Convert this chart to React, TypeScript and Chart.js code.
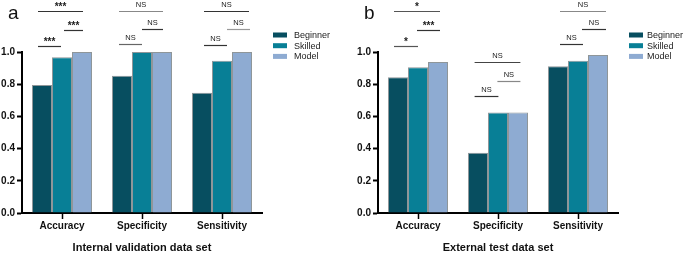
import React, { useEffect, useRef } from "react";
import { Chart, registerables } from "chart.js";

Chart.register(...registerables);

const categories = ["Accuracy", "Specificity", "Sensitivity"];
const seriesNames = ["Beginner", "Skilled", "Model"];
const seriesColors = ["#074e60", "#087f96", "#8eabd2"];

const internalBeginner = [0.795, 0.853, 0.747];
const internalSkilled = [0.967, 1.0, 0.946];
const internalModel = [1.0, 1.0, 1.0];

const externalBeginner = [0.843, 0.375, 0.911];
const externalSkilled = [0.905, 0.625, 0.946];
const externalModel = [0.938, 0.625, 0.981];

const yTickValues = [0, 0.2, 0.4, 0.6, 0.8, 1.0];

// significance annotations: category index, span in bar-slot units (0 = Beginner, 2 = Model), level in y units
const internalBrackets = [
  { cat: 0, from: -0.2, to: 2.05, level: 1.255, label: "***", color: "#333" },
  { cat: 0, from: 1.1, to: 2.05, level: 1.137, label: "***", color: "#333" },
  { cat: 0, from: -0.2, to: 0.95, level: 1.037, label: "***", color: "#333" },
  { cat: 1, from: -0.15, to: 2.05, level: 1.255, label: "NS", color: "#888" },
  { cat: 1, from: 1.0, to: 2.05, level: 1.143, label: "NS", color: "#333" },
  { cat: 1, from: -0.15, to: 1.0, level: 1.05, label: "NS", color: "#666" },
  { cat: 2, from: 0.1, to: 2.35, level: 1.255, label: "NS", color: "#333" },
  { cat: 2, from: 1.25, to: 2.4, level: 1.143, label: "NS", color: "#999" },
  { cat: 2, from: 0.1, to: 1.25, level: 1.043, label: "NS", color: "#333" },
];

const externalBrackets = [
  { cat: 0, from: -0.2, to: 2.1, level: 1.255, label: "*", color: "#555" },
  { cat: 0, from: 0.95, to: 2.1, level: 1.137, label: "***", color: "#333" },
  { cat: 0, from: -0.2, to: 1.0, level: 1.037, label: "*", color: "#555" },
  { cat: 1, from: -0.17, to: 2.12, level: 0.938, label: "NS", color: "#444" },
  { cat: 1, from: 0.97, to: 2.12, level: 0.822, label: "NS", color: "#888" },
  { cat: 1, from: -0.17, to: 1.02, level: 0.725, label: "NS", color: "#333" },
  { cat: 2, from: 0.1, to: 2.4, level: 1.255, label: "NS", color: "#888" },
  { cat: 2, from: 1.2, to: 2.4, level: 1.143, label: "NS", color: "#333" },
  { cat: 2, from: 0.1, to: 1.25, level: 1.05, label: "NS", color: "#333" },
];

const FONT = "'Liberation Sans', Arial, Helvetica, sans-serif";

type Bracket = { cat: number; from: number; to: number; level: number; label: string; color: string };

function makeOverlay(panelLabel: string, brackets: Bracket[], legendTextGap: number) {
  return {
    id: "overlay" + panelLabel,
    afterDraw(chart: any) {
      const ctx = chart.ctx as CanvasRenderingContext2D;
      const ys = chart.scales.y;
      const m0 = chart.getDatasetMeta(0);
      const m1 = chart.getDatasetMeta(1);
      ctx.save();
      // brackets
      brackets.forEach((b) => {
        const x0 = m0.data[b.cat].x;
        const step = m1.data[b.cat].x - x0;
        const xl = x0 + b.from * step;
        const xr = x0 + b.to * step;
        const y = Math.round(ys.getPixelForValue(b.level)) + 0.5;
        ctx.strokeStyle = b.color;
        ctx.lineWidth = 1.2;
        ctx.beginPath();
        ctx.moveTo(xl, y);
        ctx.lineTo(xr, y);
        ctx.stroke();
        ctx.fillStyle = "#222";
        ctx.textAlign = "center";
        ctx.textBaseline = "alphabetic";
        const xm = (xl + xr) / 2;
        if (b.label.startsWith("*")) {
          ctx.font = `bold 10px ${FONT}`;
          ctx.fillText(b.label, xm, y - 1.5);
        } else {
          ctx.font = `7.5px ${FONT}`;
          ctx.fillText(b.label, xm, y - 4.5);
        }
      });
      // legend
      const area = chart.chartArea;
      const lx = area.right + 11;
      chart.data.datasets.forEach((ds: any, i: number) => {
        const cy = 35 + i * 10.7;
        ctx.fillStyle = ds.backgroundColor;
        ctx.fillRect(lx, cy - 2.5, 14, 5);
        ctx.fillStyle = "#222";
        ctx.font = `9px ${FONT}`;
        ctx.textAlign = "left";
        ctx.textBaseline = "middle";
        ctx.fillText(ds.label, lx + legendTextGap, cy + 0.5);
      });
      // panel label
      ctx.fillStyle = "#111";
      ctx.font = `19px ${FONT}`;
      ctx.textAlign = "left";
      ctx.textBaseline = "alphabetic";
      ctx.fillText(panelLabel, area.left - 14, 18.5);
      ctx.restore();
    },
  };
}

function Panel(props: {
  left: number;
  width: number;
  yAxisWidth: number;
  values: number[][];
  title: string;
  panelLabel: string;
  brackets: Bracket[];
  legendTextGap: number;
}) {
  const ref = useRef<HTMLCanvasElement>(null);
  useEffect(() => {
    const canvas = ref.current!;
    const rightPad = props.width - props.yAxisWidth - 240;
    const chart = new Chart(canvas, {
      type: "bar",
      data: {
        labels: categories,
        datasets: seriesNames.map((name, i) => ({
          label: name,
          data: props.values[i],
          backgroundColor: seriesColors[i],
          borderColor: "rgba(95,105,110,0.7)",
          borderWidth: 1,
          barPercentage: 1,
          categoryPercentage: 0.75,
        })),
      },
      options: {
        responsive: false,
        animation: false,
        devicePixelRatio: 1,
        layout: { padding: { top: 52, right: rightPad, left: 0, bottom: 0 } },
        plugins: { legend: { display: false }, tooltip: { enabled: false }, title: { display: false } },
        scales: {
          x: {
            type: "category",
            offset: true,
            grid: {
              offset: false,
              drawOnChartArea: false,
              drawTicks: true,
              tickLength: 6,
              tickColor: "#000",
              tickWidth: 1.5,
            },
            border: { display: true, color: "#000", width: 2 },
            ticks: {
              color: "#111",
              padding: 1,
              font: { family: FONT, size: 10, weight: "bold" },
              maxRotation: 0,
            },
            title: {
              display: true,
              text: props.title,
              color: "#111",
              padding: 0,
              font: { family: FONT, size: 11, weight: "bold" },
            },
            afterFit: (s: any) => {
              s.height = 42;
            },
          },
          y: {
            min: 0,
            max: 1.0,
            afterBuildTicks: (s: any) => {
              s.ticks = yTickValues.map((v) => ({ value: v }));
            },
            grid: {
              drawOnChartArea: false,
              drawTicks: true,
              tickLength: 5,
              tickColor: "#000",
              tickWidth: 2,
            },
            border: { display: true, color: "#000", width: 2 },
            ticks: {
              color: "#111",
              padding: 2,
              font: { family: FONT, size: 10, weight: "bold" },
              callback: (v: any) => Number(v).toFixed(1),
            },
            afterFit: (s: any) => {
              s.width = props.yAxisWidth;
            },
          },
        },
      },
      plugins: [makeOverlay(props.panelLabel, props.brackets, props.legendTextGap)],
    } as any);
    return () => chart.destroy();
  }, []);
  return (
    <canvas
      ref={ref}
      width={props.width}
      height={255}
      style={{ position: "absolute", left: props.left, top: 0, width: props.width, height: 255 }}
    />
  );
}

export default function App() {
  return (
    <div style={{ position: "fixed", left: 0, top: 0, width: 685, height: 255, background: "#fff", overflow: "hidden" }}>
      <Panel
        left={0}
        width={342}
        yAxisWidth={22}
        values={[internalBeginner, internalSkilled, internalModel]}
        title="Internal validation data set"
        panelLabel="a"
        brackets={internalBrackets}
        legendTextGap={21}
      />
      <Panel
        left={342}
        width={343}
        yAxisWidth={36}
        values={[externalBeginner, externalSkilled, externalModel]}
        title="External test data set"
        panelLabel="b"
        brackets={externalBrackets}
        legendTextGap={18}
      />
    </div>
  );
}
